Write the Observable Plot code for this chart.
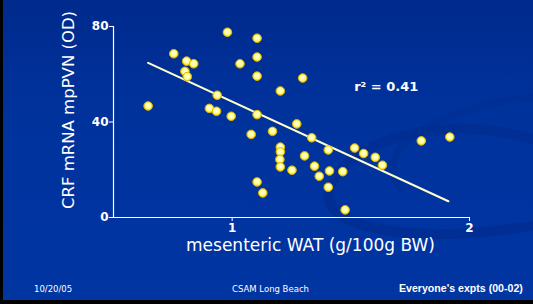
<!DOCTYPE html>
<html>
<head>
<meta charset="utf-8">
<script src="https://cdn.jsdelivr.net/npm/d3@7"></script>
<script src="https://cdn.jsdelivr.net/npm/@observablehq/plot@0.6"></script>
<style>
html, body { margin: 0; padding: 0; }
body { width: 533px; height: 304px; overflow: hidden; background: #000; position: relative; font-family: "DejaVu Sans", sans-serif; }
#slide { position: absolute; left: 3px; top: 0; width: 530px; height: 300px;
  background: linear-gradient(180deg, #002a8c 0%, #00329c 35%, #0035a2 100%); overflow: hidden; }
#deco { position: absolute; left: 0; top: 0; }
#chart { position: absolute; left: 0; top: 0; }
.foot { position: absolute; color: #fff; white-space: nowrap; }
</style>
</head>
<body>
<div id="slide">
  <svg id="deco" width="530" height="300">
    <path d="M 560 150 C 470 110, 360 130, 330 180 C 300 230, 420 250, 560 220" fill="none" stroke="#002c8e" stroke-width="10" opacity="0.6"/>
    <path d="M 560 95 C 440 100, 360 150, 400 190" fill="none" stroke="#002c8e" stroke-width="7" opacity="0.5"/>
  </svg>
</div>
<div id="chart"></div>
<div class="foot" style="left:34px; top:284px; font-size:8.5px;">10/20/05</div>
<div class="foot" style="left:232px; top:284px; font-size:8.5px;">CSAM Long Beach</div>
<div class="foot" style="left:399px; top:282px; font-size:10.6px; font-weight:bold; font-family:'Liberation Sans', sans-serif;">Everyone's expts (00-02)</div>
<script>
const wat = [0.646,0.754,0.808,0.838,0.801,0.811,0.937,0.904,0.934,0.996,0.980,1.105,1.033,1.105,1.105,1.203,1.297,1.105,1.080,1.170,1.272,1.335,1.203,1.203,1.201,1.203,1.252,1.305,1.347,1.367,1.405,1.410,1.405,1.466,1.476,1.105,1.129,1.516,1.554,1.603,1.633,1.797,1.917];
const crf = [46.7,68.6,65.5,64.4,61.2,59.0,51.2,45.7,44.5,42.4,77.6,75.1,64.4,67.2,59.2,53.0,58.4,43.1,34.8,36.1,39.2,33.4,29.5,27.5,24.3,21.2,19.8,25.8,21.5,17.3,28.3,19.5,12.7,19.2,3.2,14.9,10.3,29.1,26.8,25.2,21.9,32.1,33.7];
const fitX = [0.646, 1.911];
const fitY = [64.8, 6.8];
const xTicks = [1, 2];
const yTicks = [0, 40, 80];
const xLabel = "mesenteric WAT (g/100g BW)";
const yLabel = "CRF mRNA mpPVN (OD)";
const rLabel = "r² = 0.41";

const pts = wat.map((x, i) => ({x, y: crf[i]}));
const fit = fitX.map((x, i) => ({x, y: fitY[i]}));

const chart = Plot.plot({
  width: 533, height: 304,
  marginLeft: 113, marginRight: 64, marginTop: 26, marginBottom: 87,
  style: {background: "transparent", color: "#fff", fontFamily: "DejaVu Sans, sans-serif", overflow: "visible"},
  x: {domain: [0.5, 2]},
  y: {domain: [0, 80]},
  marks: [
    Plot.ruleX([0.5], {stroke: "#fff", strokeWidth: 1.2}),
    Plot.ruleY([0], {stroke: "#fff", strokeWidth: 1.2}),
    Plot.axisX({ticks: xTicks, tickFormat: d => String(d), tickSize: 4, tickPadding: 2, fontSize: 12, fontWeight: "bold", label: null, stroke: "#fff"}),
    Plot.axisY({ticks: yTicks, tickFormat: d => String(d), tickSize: 4, tickPadding: 1, fontSize: 12, fontWeight: "bold", label: null, stroke: "#fff"}),
    Plot.text([xLabel], {frameAnchor: "bottom", dy: 33, dx: 19, fontSize: 17, fill: "#fff"}),
    Plot.text([yLabel], {frameAnchor: "left", textAnchor: "middle", dx: -45, dy: -12, rotate: -90, fontSize: 16.5, fill: "#fff"}),
    Plot.line(fit, {x: "x", y: "y", stroke: "#ffffcc", strokeWidth: 2}),
    Plot.dot(pts, {x: "x", y: "y", r: 4.3, fill: "url(#dotgrad)", stroke: "#e0b800", strokeWidth: 1}),
    Plot.text([rLabel], {x: () => 1.649, y: () => 54.6, fontSize: 13, fontWeight: "bold", fill: "#fff"})
  ]
});
const ns = "http://www.w3.org/2000/svg";
const defs = document.createElementNS(ns, "defs");
defs.innerHTML = '<radialGradient id="dotgrad" cx="50%" cy="45%" r="55%"><stop offset="0%" stop-color="#ffffee"/><stop offset="55%" stop-color="#ffff99"/><stop offset="100%" stop-color="#ffd700"/></radialGradient>';
chart.insertBefore(defs, chart.firstChild);
document.getElementById("chart").appendChild(chart);
</script>
</body>
</html>
